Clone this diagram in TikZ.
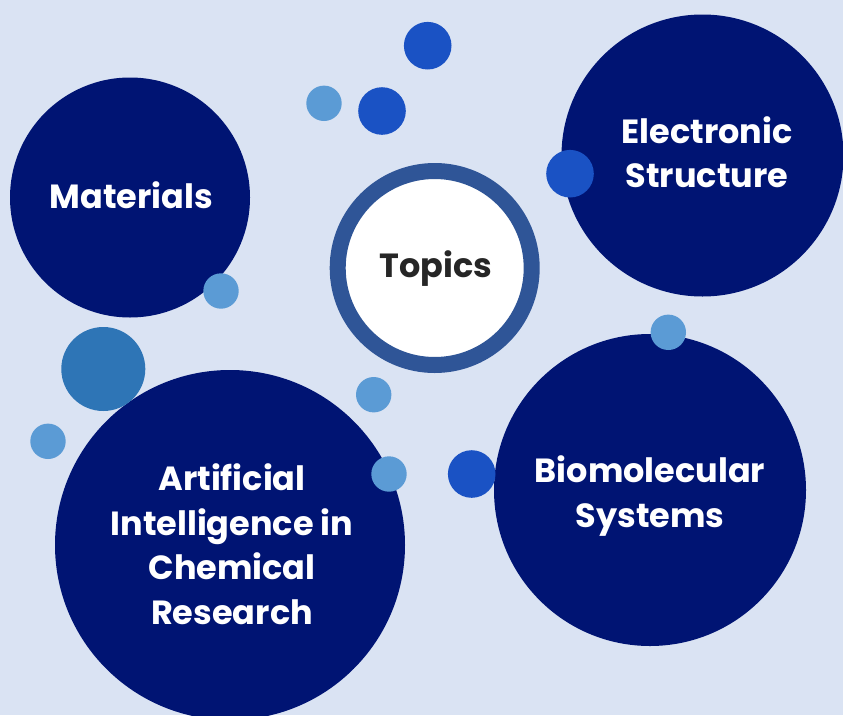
\documentclass[tikz,border=0pt]{standalone}
\usepackage{fontspec}
\setmainfont{Poppins}
\definecolor{bg}{HTML}{DAE3F3}
\definecolor{navy}{HTML}{001473}
\definecolor{dotdark}{HTML}{1A52C4}
\definecolor{dotlight}{HTML}{5B9BD5}
\definecolor{dotmid}{HTML}{2E75B6}
\definecolor{ring}{HTML}{2F5597}
\definecolor{topictext}{HTML}{262626}
\tikzset{
  big/.style={circle, fill=navy, inner sep=0pt},
  lbl/.style={text=white, align=center, inner sep=0pt,
    font=\fontsize{33.5}{44.5}\selectfont\bfseries},
  dotD/.style={circle, fill=dotdark, inner sep=0pt, minimum size=47.6pt},
  dotL/.style={circle, fill=dotlight, inner sep=0pt, minimum size=35.4pt},
  dotM/.style={circle, fill=dotmid, inner sep=0pt, minimum size=84pt},
  topicnode/.style={circle, fill=white, draw=ring, line width=16pt, inner sep=0pt,
    minimum size=194pt},
  topiclbl/.style={text=topictext, inner sep=0pt, font=\fontsize{33.5}{40}\selectfont\bfseries}
}
\begin{document}
\begin{tikzpicture}[x=1pt,y=-1pt]
\fill[bg] (0,0) rectangle (843,715);
\useasboundingbox (0,0) rectangle (843,715);
\node[big, minimum size=240pt] (mat) at (130,197.5) {};
\node[big, minimum size=282pt] (ele) at (702.5,155.5) {};
\node[big, minimum size=312pt] (bio) at (650,490) {};
\node[big, minimum size=350pt] (ai) at (230,545) {};
\node[lbl] (matl) at (131.5,195) {Materials};
\node[lbl] (elel) at (707,152) {Electronic\\Structure};
\node[lbl] (biol) at (650,496) {Biomolecular\\Systems};
\node[lbl] (ail) at (232,544) {Artificial\\Intelligence in\\Chemical\\Research};
\node[topicnode] (top) at (434.7,268) {};
\node[topiclbl] (topl) at (436,269) {Topics};
\node[dotD] (d1) at (427.7,45.7) {};
\node[dotD] (d2) at (382,111) {};
\node[dotL] (l1) at (324,103.3) {};
\node[dotD] (d3) at (570,173.7) {};
\node[dotL] (l2) at (221,291) {};
\node[dotM] (m1) at (103.3,369) {};
\node[dotL] (l3) at (48,441.3) {};
\node[dotL] (l4) at (373.7,394.7) {};
\node[dotL] (l5) at (389,474) {};
\node[dotD] (d4) at (471.7,474) {};
\node[dotL] (l6) at (668.3,332.3) {};
\end{tikzpicture}
\end{document}
